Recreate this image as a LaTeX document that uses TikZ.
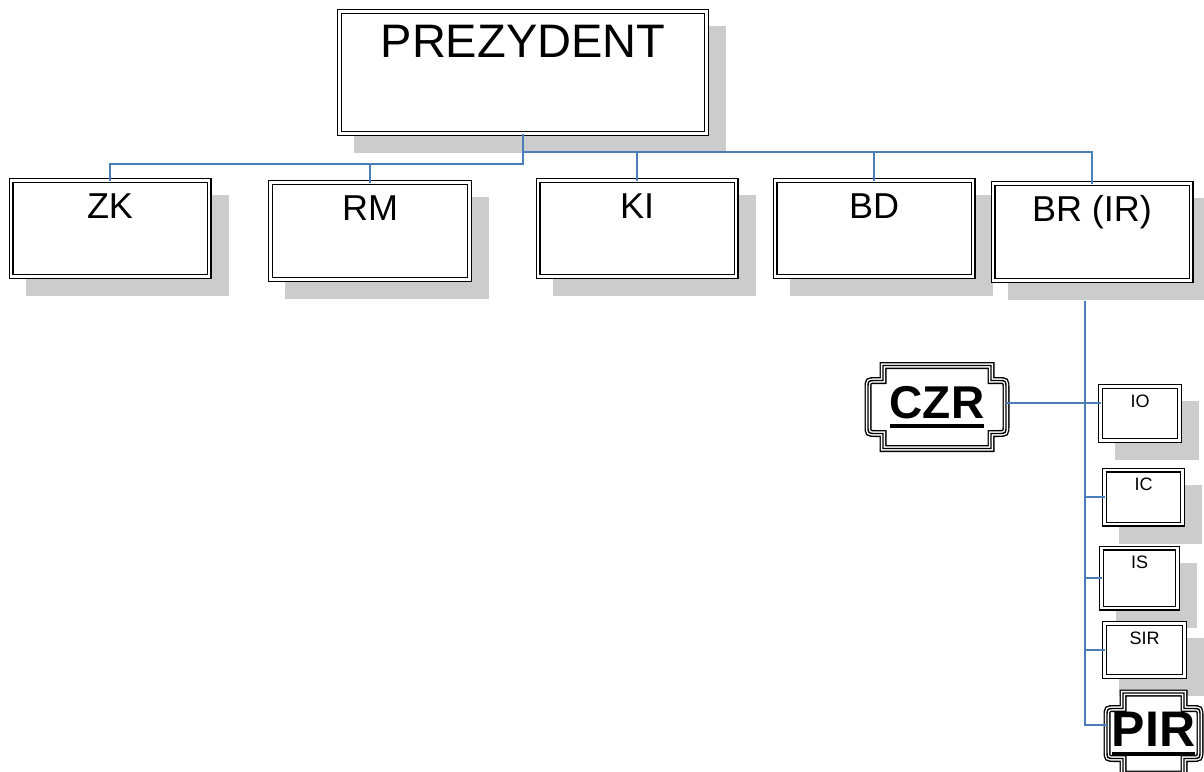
\documentclass[tikz,border=0pt]{standalone}
\usepackage{fontspec}
\setmainfont{Liberation Sans}
\usetikzlibrary{backgrounds}

\definecolor{linkblue}{RGB}{74,126,187}
\definecolor{shadowgrey}{RGB}{204,204,204}

\tikzset{
  frame/.style={draw=black, line width=1.3pt, double=white, double distance=2.4pt,
    fill=white, inner sep=0pt, outer sep=0pt, anchor=center},
  unit/.style={frame, minimum width=198pt, text height=38pt,
    font=\fontsize{36}{40}\selectfont},
  office/.style={frame, text height=20.5pt, font=\fontsize{18}{20}\selectfont},
  plaquelabel/.style={inner sep=0pt, outer sep=0pt, anchor=center},
  link/.style={draw=linkblue, line width=1.5pt},
}

% grey offset shadow behind a framed box
\newcommand\castshadow[1]{%
  \begin{pgfonlayer}{background}
    \fill[shadowgrey] ([shift={(14.5,14.5)}]#1.north west) rectangle ([shift={(19.5,19.5)}]#1.south east);
  \end{pgfonlayer}}

% cross-shaped plaque outline: centre (#1,#2), tall half sizes #3,#4, wide half sizes #5,#6
\newcommand\plaqueoutline[6]{%
  (#1-#3,#2-#4) -- (#1+#3,#2-#4) -- (#1+#3,#2-#6) -- (#1+#5-8,#2-#6)
  .. controls (#1+#5,#2-#6) .. (#1+#5,#2-#6+8) -- (#1+#5,#2+#6-8)
  .. controls (#1+#5,#2+#6) .. (#1+#5-8,#2+#6) -- (#1+#3,#2+#6) -- (#1+#3,#2+#4)
  -- (#1-#3,#2+#4) -- (#1-#3,#2+#6) -- (#1-#5+8,#2+#6)
  .. controls (#1-#5,#2+#6) .. (#1-#5,#2+#6-8) -- (#1-#5,#2-#6+8)
  .. controls (#1-#5,#2-#6) .. (#1-#5+8,#2-#6) -- (#1-#3,#2-#6) -- cycle}

% triple-lined plaque
\newcommand\plaque[6]{%
  \fill[white] \plaqueoutline{#1}{#2}{#3}{#4}{#5}{#6};
  \draw[black, line width=7pt] \plaqueoutline{#1}{#2}{#3}{#4}{#5}{#6};
  \draw[white, line width=4.2pt] \plaqueoutline{#1}{#2}{#3}{#4}{#5}{#6};
  \draw[black, line width=1.4pt] \plaqueoutline{#1}{#2}{#3}{#4}{#5}{#6};}

% bold text with a heavy underline
\newcommand\heavyul[1]{\begingroup\setbox0\hbox{#1}\rlap{\rule[-9.5pt]{\wd0}{4pt}}\box0\endgroup}

\begin{document}
\begin{tikzpicture}[x={(1pt,0)}, y={(0,-1pt)}]
  \useasboundingbox (0,0) rectangle (1204,771);

  % top level
  \node[frame, minimum width=367pt, text height=45.5pt, text depth=76.5pt,
        font=\fontsize{47}{50}\selectfont] (prez) at (523,72.5) {PREZYDENT};
  \castshadow{prez}

  % departments
  \node[unit, text depth=58pt] (zk) at (110,228.5) {ZK};
  \castshadow{zk}
  \node[unit, minimum width=199pt, text depth=59pt] (rm) at (370,231) {RM};
  \castshadow{rm}
  \node[unit, text depth=58pt] (ki) at (637,228.5) {KI};
  \castshadow{ki}
  \node[unit, text depth=58pt] (bd) at (874,228.5) {BD};
  \castshadow{bd}
  \node[unit, text depth=59pt] (br) at (1092,232) {BR (IR)};
  \castshadow{br}

  % units under BR (IR)
  \node[office, minimum width=79pt, text depth=33.5pt] (io) at (1140,413.5) {IO};
  \castshadow{io}
  \node[office, minimum width=78pt, text depth=33.5pt] (ic) at (1143.5,497) {IC};
  \castshadow{ic}
  \node[office, minimum width=76pt, text depth=39.5pt] (is) at (1139.5,578) {IS};
  \castshadow{is}
  \node[office, minimum width=80pt, text depth=32.5pt] (sir) at (1144.5,650) {SIR};
  \castshadow{sir}

  % plaques
  \plaque{937}{407}{54}{41.5}{69}{26.5}
  \node[plaquelabel, minimum width=138pt, text height=52.5pt, text depth=30.5pt,
        font=\fontsize{46}{48}\bfseries] (czr) at (937,407) {\heavyul{CZR}};
  \plaque{1153.5}{733.5}{30.5}{40.5}{46.5}{25}
  \node[plaquelabel, minimum width=93pt, text height=53.5pt, text depth=27.5pt,
        font=\fontsize{50}{52}\bfseries] (pir) at (1153.5,733.5) {\heavyul{PIR}};

  % connectors from the top box
  \coordinate (busL) at (523,164);
  \coordinate (busR) at (523,152);
  \draw[link] (prez.south) -- (busL) -| (zk.north);
  \draw[link] (busL) -| (rm.north);
  \draw[link] (busR) -| (ki.north);
  \draw[link] (busR) -| (bd.north);
  \draw[link] (busR) -| (br.north);

  % spine below BR (IR)
  \coordinate (spine) at (1085,301);
  \coordinate (czrport) at ([yshift=4pt]czr.east);
  \coordinate (pirport) at ([yshift=8.5pt]pir.west);
  \draw[link] (czrport) -- (czrport -| io.west);
  \draw[link] (spine) |- (ic.west);
  \draw[link] (spine) |- (is.west);
  \draw[link] (spine) |- (sir.west);
  \draw[link] (spine) |- (pirport);
\end{tikzpicture}
\end{document}
